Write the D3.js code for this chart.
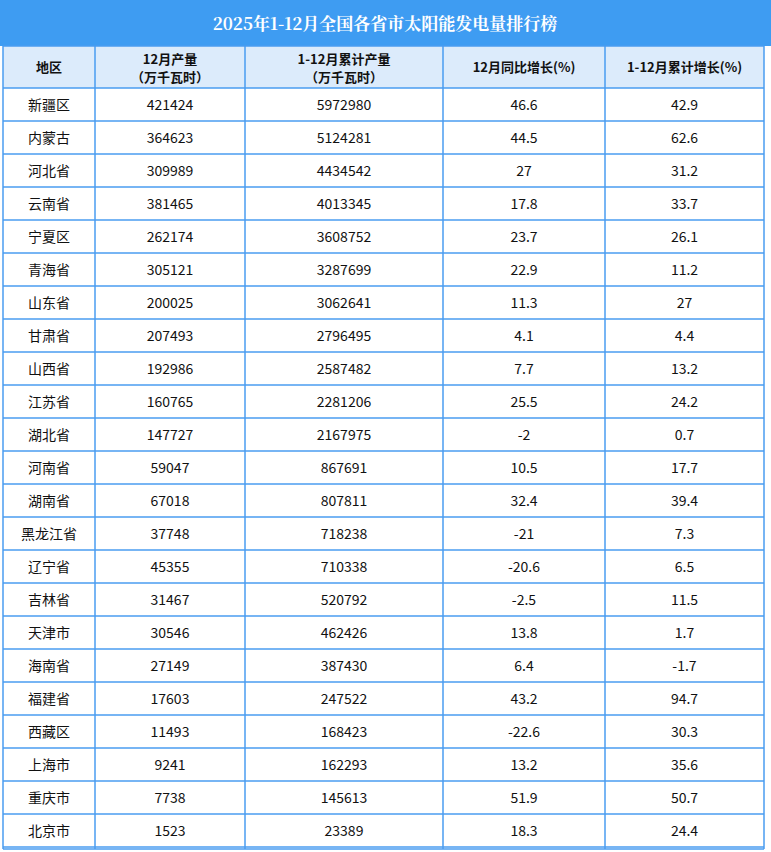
<!DOCTYPE html>
<html><head><meta charset="utf-8">
<script src="https://cdn.jsdelivr.net/npm/d3@7"></script>
<style>body{margin:0;background:#fff}</style></head>
<body><svg id="c" width="771" height="852"></svg>
<script>
const title = "2025年1-12月全国各省市太阳能发电量排行榜";
const headers = [["地区"],["12月产量","（万千瓦时）"],["1-12月累计产量","（万千瓦时）"],["12月同比增长(%)"],["1-12月累计增长(%)"]];
const regions = ["新疆区","内蒙古","河北省","云南省","宁夏区","青海省","山东省","甘肃省","山西省","江苏省","湖北省","河南省","湖南省","黑龙江省","辽宁省","吉林省","天津市","海南省","福建省","西藏区","上海市","重庆市","北京市"];
const decOutput = [421424,364623,309989,381465,262174,305121,200025,207493,192986,160765,147727,59047,67018,37748,45355,31467,30546,27149,17603,11493,9241,7738,1523];
const cumOutput = [5972980,5124281,4434542,4013345,3608752,3287699,3062641,2796495,2587482,2281206,2167975,867691,807811,718238,710338,520792,462426,387430,247522,168423,162293,145613,23389];
const decGrowth = ["46.6","44.5","27","17.8","23.7","22.9","11.3","4.1","7.7","25.5","-2","10.5","32.4","-21","-20.6","-2.5","13.8","6.4","43.2","-22.6","13.2","51.9","18.3"];
const cumGrowth = ["42.9","62.6","31.2","33.7","26.1","11.2","27","4.4","13.2","24.2","0.7","17.7","39.4","7.3","6.5","11.5","1.7","-1.7","94.7","30.3","35.6","50.7","24.4"];

const svg = d3.select("#c");
const colEdges = [3,95,245,443,605,764];
const rows = regions.map((r,i)=>[r,decOutput[i],cumOutput[i],decGrowth[i],cumGrowth[i]]);
const y = d3.scaleLinear().domain([0,rows.length]).range([88,847]);
const font = "'Noto Sans CJK SC', sans-serif";
const blue = "#4a9cf0";

svg.append("rect").attr("x",0).attr("y",0).attr("width",771).attr("height",46).attr("fill","#3e9cf2");
svg.append("text").attr("x",385).attr("y",30).attr("text-anchor","middle").attr("fill","#fff")
  .attr("font-family","'Noto Serif CJK SC','Noto Sans CJK SC',serif").attr("font-weight","bold").attr("font-size",17).text(title);

svg.append("rect").attr("x",3).attr("y",46).attr("width",761).attr("height",42).attr("fill","#dcebfb");
headers.forEach((h,j)=>{
  const cx=(colEdges[j]+colEdges[j+1])/2;
  const t=svg.append("text").attr("text-anchor","middle").attr("font-family",font).attr("font-weight","bold").attr("font-size",13).attr("fill","#111");
  if(h.length===1) t.append("tspan").attr("x",cx).attr("y",72).text(h[0]);
  else { t.append("tspan").attr("x",cx).attr("y",64).text(h[0]); t.append("tspan").attr("x",cx).attr("y",82).text(h[1]); }
});
rows.forEach((r,i)=>{
  r.forEach((v,j)=>{
    svg.append("text").attr("x",(colEdges[j]+colEdges[j+1])/2).attr("y",(y(i)+y(i+1))/2+5)
      .attr("text-anchor","middle").attr("font-family",font).attr("font-size",14).attr("fill","#111").text(v);
  });
});
const hl=[46,...d3.range(rows.length+1).map(i=>y(i)),849];
hl.forEach(yy=>svg.append("line").attr("x1",3).attr("x2",764).attr("y1",yy).attr("y2",yy).attr("stroke",blue).attr("stroke-width",1.5));
colEdges.forEach(xx=>svg.append("line").attr("x1",xx).attr("x2",xx).attr("y1",46).attr("y2",849).attr("stroke",blue).attr("stroke-width",1.5));
</script></body></html>
